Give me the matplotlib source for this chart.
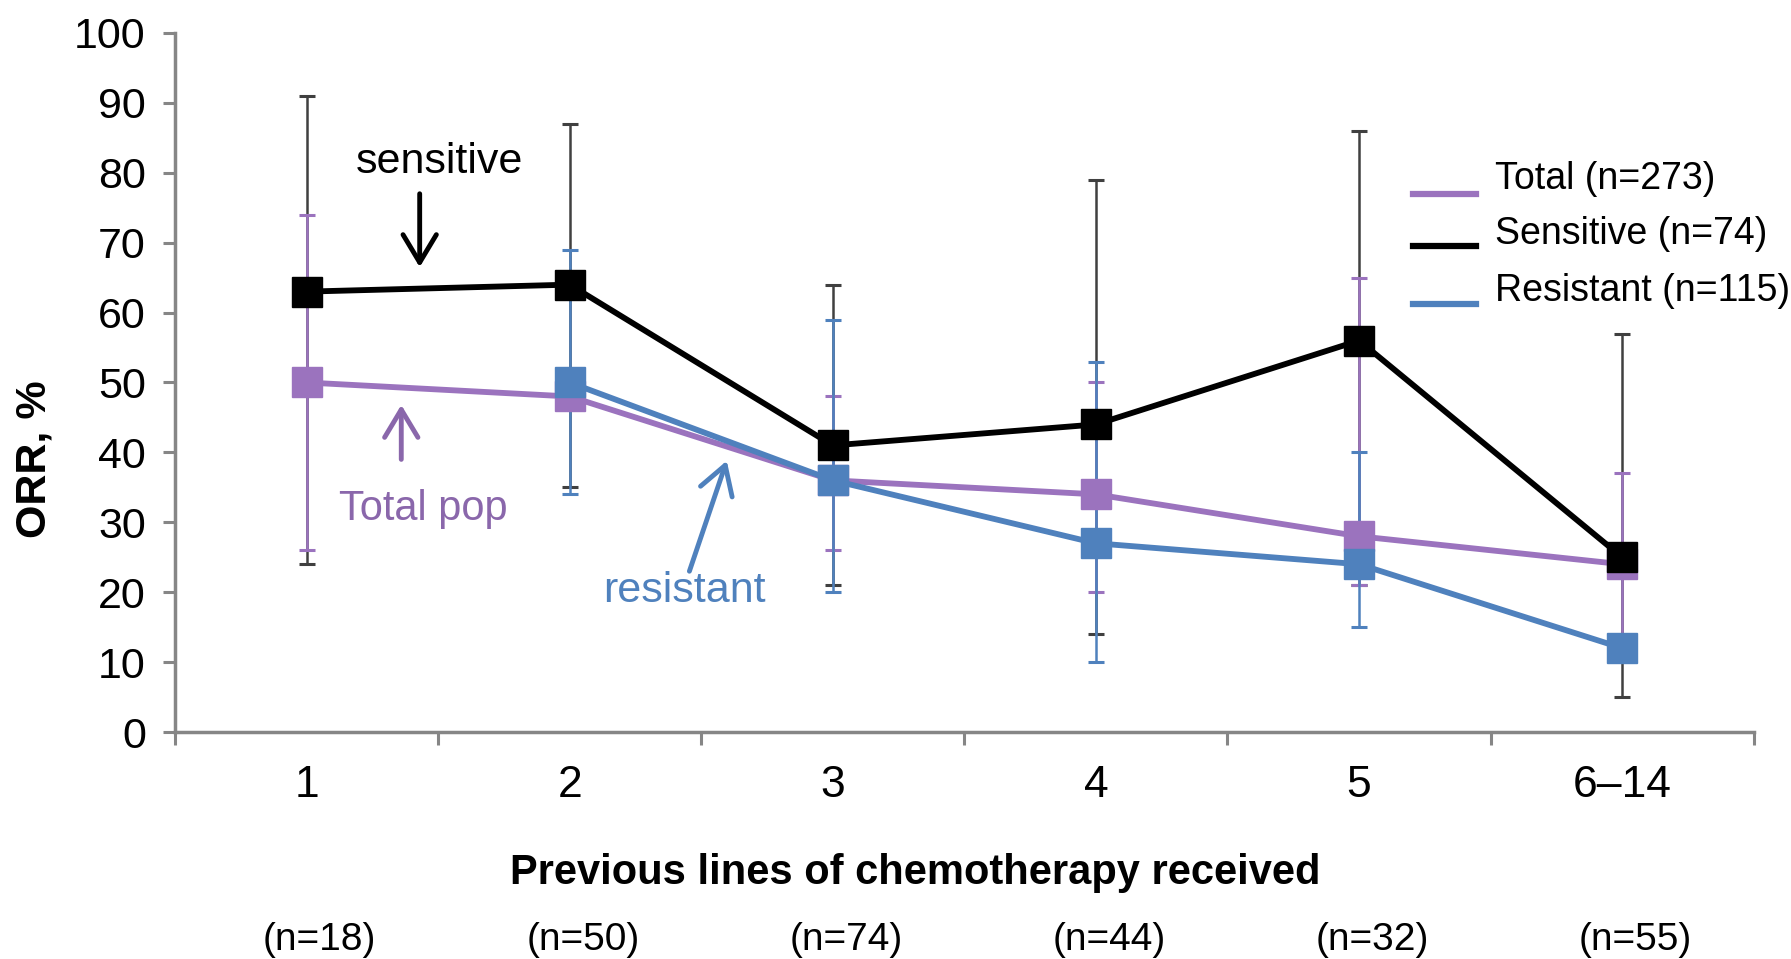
import numpy as np
import matplotlib
matplotlib.use('Agg')
import matplotlib.pyplot as plt
from matplotlib.lines import Line2D
import matplotlib.transforms as mtransforms

# data
categories = ['1', '2', '3', '4', '5', '6–14']
n_labels = ['(n=18)', '(n=50)', '(n=74)', '(n=44)', '(n=32)', '(n=55)']

total = [50, 48, 36, 34, 28, 24]
total_lo = [26, np.nan, 26, 20, 21, 13]
total_hi = [74, np.nan, 48, 50, 65, 37]

sensitive = [63, 64, 41, 44, 56, 25]
sensitive_lo = [24, 35, 21, 14, 21, 5]
sensitive_hi = [91, 87, 64, 79, 86, 57]

resistant = [np.nan, 50, 36, 27, 24, 12]
resistant_lo = [np.nan, 34, 20, 10, 15, np.nan]
resistant_hi = [np.nan, 69, 59, 53, 40, np.nan]

legend_labels = ['Total (n=273)', 'Sensitive (n=74)', 'Resistant (n=115)']

PURPLE = '#9B73BE'
BLUE = '#4F81BD'
BLACK = '#000000'
ERR_GREY = '#404040'
AXIS_GREY = '#868686'

NARROW = ['Liberation Sans Narrow', 'DejaVu Sans Condensed', 'Liberation Sans']
plt.rcParams['font.family'] = ['Liberation Sans', 'DejaVu Sans']

fig = plt.figure(figsize=(17.91, 9.59), dpi=100)
ax = fig.add_axes([0.0977, 0.2367, 0.8815, 0.7289])

x = np.arange(1, len(categories) + 1)


def draw_errors(vals, lo, hi, color, z):
    vals = np.array(vals, dtype=float)
    lo = np.array(lo, dtype=float)
    hi = np.array(hi, dtype=float)
    ok = np.isfinite(vals) & np.isfinite(lo) & np.isfinite(hi)
    ax.errorbar(x[ok], vals[ok], yerr=[vals[ok] - lo[ok], hi[ok] - vals[ok]],
                fmt='none', ecolor=color, elinewidth=1.8, capsize=6,
                capthick=2.2, zorder=z)


draw_errors(sensitive, sensitive_lo, sensitive_hi, ERR_GREY, 2)
draw_errors(total, total_lo, total_hi, PURPLE, 3)
draw_errors(resistant, resistant_lo, resistant_hi, BLUE, 4)

ax.plot(x, total, color=PURPLE, lw=4.2, marker='s', ms=21, zorder=5)
ax.plot(x, resistant, color=BLUE, lw=4.2, marker='s', ms=21, zorder=6)
ax.plot(x, sensitive, color=BLACK, lw=4.2, marker='s', ms=21, zorder=7)

ax.set_xlim(0.5, len(categories) + 0.5)
ax.set_ylim(0, 100)
ax.set_yticks(np.arange(0, 101, 10))
ax.set_xticks(np.arange(0.5, len(categories) + 1, 1))
ax.set_xticklabels([])
ax.set_xticks(x, minor=True)
ax.set_xticklabels(categories, minor=True, fontsize=32, family=NARROW)
ax.tick_params(axis='x', which='major', length=9, width=2.2, color=AXIS_GREY)
ax.tick_params(axis='x', which='minor', length=0, pad=24)
ax.tick_params(axis='y', length=9, width=2.2, color=AXIS_GREY, pad=12)
for lab in ax.get_yticklabels():
    lab.set_fontsize(31)
    lab.set_family(NARROW)

for side in ['top', 'right']:
    ax.spines[side].set_visible(False)
for side in ['left', 'bottom']:
    ax.spines[side].set_color(AXIS_GREY)
    ax.spines[side].set_linewidth(2.5)

# n under each category (sits slightly right of the category centre)
trans = mtransforms.blended_transform_factory(ax.transData, fig.transFigure)
for xi, lab in zip(x, n_labels):
    ax.text(xi + 0.05, 0.020, lab, transform=trans, ha='center', va='center',
            fontsize=28, family=NARROW)

fig.text(0.019, 0.521, 'ORR, %', rotation=90, ha='center', va='center',
         fontsize=31, fontweight='bold')
fig.text(0.511, 0.090, 'Previous lines of chemotherapy received',
         ha='center', va='center', fontsize=30, fontweight='bold')

# annotations
arrow = '->,head_length=0.5,head_width=0.3'
ax.annotate('', xy=(1.43, 66.5), xytext=(1.43, 77),
            arrowprops=dict(arrowstyle=arrow, color=BLACK, lw=3.5,
                            mutation_scale=40, shrinkA=0, shrinkB=0))
ax.text(1.507, 81.5, 'sensitive', ha='center', va='center', fontsize=31)
ax.annotate('', xy=(1.36, 46.8), xytext=(1.36, 39),
            arrowprops=dict(arrowstyle=arrow, color='#8A67AB', lw=3.5,
                            mutation_scale=40, shrinkA=0, shrinkB=0))
ax.text(1.442, 31.9, 'Total pop', ha='center', va='center', fontsize=30,
        color='#8A67AB')
ax.annotate('', xy=(2.597, 38.8), xytext=(2.455, 23),
            arrowprops=dict(arrowstyle=arrow, color=BLUE, lw=3.5,
                            mutation_scale=40, shrinkA=0, shrinkB=0))
ax.text(2.438, 20.2, 'resistant', ha='center', va='center', fontsize=31,
        color=BLUE)

# legend drawn by hand: line sits a little below each label, as in the source
legend_colors = [PURPLE, BLACK, BLUE]
text_y = [0.813, 0.756, 0.697]
line_y = [0.798, 0.743, 0.683]
for lab, col, ty, ly in zip(legend_labels, legend_colors, text_y, line_y):
    fig.add_artist(Line2D([0.789, 0.824], [ly, ly], color=col, lw=4.5,
                          transform=fig.transFigure))
    fig.text(0.835, ty, lab, ha='left', va='center', fontsize=27)

fig.savefig('out.png', dpi=100)
